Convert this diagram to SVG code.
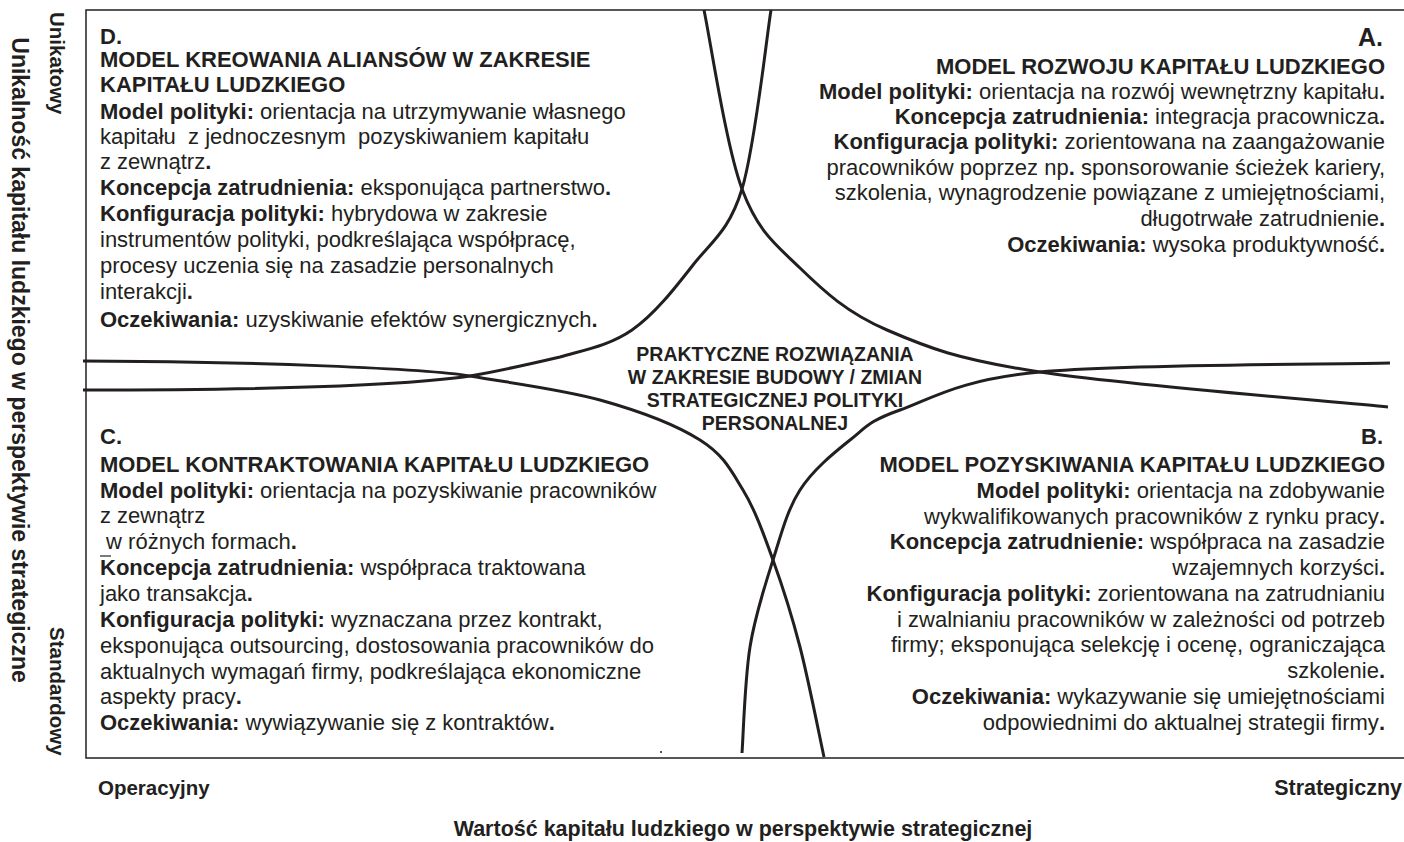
<svg xmlns="http://www.w3.org/2000/svg" width="1404" height="842" viewBox="0 0 1404 842">
<style>
.t{font-family:"Liberation Sans",Arial,sans-serif;font-size:22px;fill:#231f20;white-space:pre}
.b{font-weight:bold}
.r{text-anchor:end}
.c{font-family:"Liberation Sans",Arial,sans-serif;font-size:19.5px;font-weight:bold;fill:#231f20;text-anchor:middle}
.ax{font-family:"Liberation Sans",Arial,sans-serif;font-size:20.5px;font-weight:bold;fill:#231f20}
.frame{fill:none;stroke:#231f20;stroke-width:1.5}
.curve{fill:none;stroke:#231f20;stroke-width:3;stroke-linecap:butt}
</style>
<rect width="1404" height="842" fill="#fff"/>
<path class="frame" d="M1404,10 H86 V758 H1404"/>
<g id="connectors">
<path class="curve" d="M704,10 C710.3,39.8 726,146 742,189 C758,232 775.8,244.5 800,268 C824.2,291.5 847,312.7 887,330 C927,347.3 956.5,359.2 1040,372 C1123.5,384.8 1330,401.2 1388,407"/>
<path class="curve" d="M771,10 C766.2,39.8 755,146.5 742,189 C729,231.5 711.3,241.5 693,265 C674.7,288.5 654.2,314.7 632,330 C609.8,345.3 587,349.3 560,357 C530,364 500,371 470,376 C400,386 250,390 83,390"/>
<path class="curve" d="M83,361 C250,361 430,369 470,376 C510,383 561.7,389.3 600,400 C638.3,410.7 676.2,425 700,440 C723.8,455 730.8,470 743,490 C755.2,510 763.5,533.8 773,560 C782.5,586.2 791.5,614.2 800,647 C808.5,679.8 820,738.7 824,757"/>
<path class="curve" d="M742,753 C743.3,735.3 744.8,679.2 750,647 C755.2,614.8 764.7,586.2 773,560 C781.3,533.8 787.2,510 800,490 C812.8,470 833.3,453.3 850,440 C866.7,426.7 868.3,421.3 900,410 C931.7,398.7 958.3,379.8 1040,372 C1121.7,364.2 1331.7,364.5 1390,363"/>
</g>
<g id="axis-labels">
<text class="ax" x="98" y="795">Operacyjny</text>
<text class="ax" x="1402" y="795" text-anchor="end" style="font-size:21.5px">Strategiczny</text>
<text class="ax" x="743" y="836" text-anchor="middle" style="font-size:21.5px">Wartość kapitału ludzkiego w perspektywie strategicznej</text>
<text class="ax" transform="translate(50,12) rotate(90)">Unikatowy</text>
<text class="ax" transform="translate(50,627) rotate(90)">Standardowy</text>
<text class="ax" transform="translate(12,360) rotate(90)" text-anchor="middle" style="font-size:23px">Unikalność kapitału ludzkiego w perspektywie strategiczne</text>
</g>
<g id="node-D">
<text class="t b" x="100" y="44">D.</text>
<text class="t b" x="100" y="67">MODEL KREOWANIA ALIANSÓW W ZAKRESIE</text>
<text class="t b" x="100" y="92">KAPITAŁU LUDZKIEGO</text>
<text class="t" x="100" y="119"><tspan class="b">Model polityki:</tspan> orientacja na utrzymywanie własnego</text>
<text class="t" x="100" y="144">kapitału  z jednoczesnym  pozyskiwaniem kapitału</text>
<text class="t" x="100" y="169">z zewnątrz<tspan class="b">.</tspan></text>
<text class="t" x="100" y="195"><tspan class="b">Koncepcja zatrudnienia:</tspan> eksponująca partnerstwo<tspan class="b">.</tspan></text>
<text class="t" x="100" y="221"><tspan class="b">Konfiguracja polityki:</tspan> hybrydowa w zakresie</text>
<text class="t" x="100" y="247">instrumentów polityki, podkreślająca współpracę,</text>
<text class="t" x="100" y="273">procesy uczenia się na zasadzie personalnych</text>
<text class="t" x="100" y="299">interakcji<tspan class="b">.</tspan></text>
<text class="t" x="100" y="327"><tspan class="b">Oczekiwania:</tspan> uzyskiwanie efektów synergicznych<tspan class="b">.</tspan></text>
</g>
<g id="node-A">
<text class="t b r" x="1383" y="46" style="font-size:25px">A.</text>
<text class="t b r" x="1385" y="74">MODEL ROZWOJU KAPITAŁU LUDZKIEGO</text>
<text class="t r" x="1385" y="99"><tspan class="b">Model polityki:</tspan> orientacja na rozwój wewnętrzny kapitału<tspan class="b">.</tspan></text>
<text class="t r" x="1385" y="124"><tspan class="b">Koncepcja zatrudnienia:</tspan> integracja pracownicza<tspan class="b">.</tspan></text>
<text class="t r" x="1385" y="149"><tspan class="b">Konfiguracja polityki:</tspan> zorientowana na zaangażowanie</text>
<text class="t r" x="1385" y="175">pracowników poprzez np<tspan class="b">.</tspan> sponsorowanie ścieżek kariery,</text>
<text class="t r" x="1385" y="200">szkolenia, wynagrodzenie powiązane z umiejętnościami,</text>
<text class="t r" x="1385" y="226">długotrwałe zatrudnienie<tspan class="b">.</tspan></text>
<text class="t r" x="1385" y="252"><tspan class="b">Oczekiwania:</tspan> wysoka produktywność<tspan class="b">.</tspan></text>
</g>
<g id="node-center">
<text class="c" x="775" y="361">PRAKTYCZNE ROZWIĄZANIA</text>
<text class="c" x="775" y="384">W ZAKRESIE BUDOWY / ZMIAN</text>
<text class="c" x="775" y="407">STRATEGICZNEJ POLITYKI</text>
<text class="c" x="775" y="430">PERSONALNEJ</text>
</g>
<g id="node-C">
<text class="t b" x="100" y="444">C.</text>
<text class="t b" x="100" y="472">MODEL KONTRAKTOWANIA KAPITAŁU LUDZKIEGO</text>
<text class="t" x="100" y="498"><tspan class="b">Model polityki:</tspan> orientacja na pozyskiwanie pracowników</text>
<text class="t" x="100" y="523">z zewnątrz</text>
<text class="t" x="100" y="549"> w różnych formach<tspan class="b">.</tspan></text>
<line x1="100" y1="556" x2="111" y2="556" stroke="#231f20" stroke-width="1.2"/>
<text class="t" x="100" y="575"><tspan class="b">Koncepcja zatrudnienia:</tspan> współpraca traktowana</text>
<text class="t" x="100" y="601">jako transakcja<tspan class="b">.</tspan></text>
<text class="t" x="100" y="627"><tspan class="b">Konfiguracja polityki:</tspan> wyznaczana przez kontrakt,</text>
<text class="t" x="100" y="653">eksponująca outsourcing, dostosowania pracowników do</text>
<text class="t" x="100" y="679">aktualnych wymagań firmy, podkreślająca ekonomiczne</text>
<text class="t" x="100" y="704">aspekty pracy<tspan class="b">.</tspan></text>
<text class="t" x="100" y="730"><tspan class="b">Oczekiwania:</tspan> wywiązywanie się z kontraktów<tspan class="b">.</tspan></text>
<circle cx="661" cy="752" r="1" fill="#231f20"/>
</g>
<g id="node-B">
<text class="t b r" x="1383" y="444">B.</text>
<text class="t b r" x="1385" y="472">MODEL POZYSKIWANIA KAPITAŁU LUDZKIEGO</text>
<text class="t r" x="1385" y="498"><tspan class="b">Model polityki:</tspan> orientacja na zdobywanie</text>
<text class="t r" x="1385" y="524">wykwalifikowanych pracowników z rynku pracy<tspan class="b">.</tspan></text>
<text class="t r" x="1385" y="549"><tspan class="b">Koncepcja zatrudnienie:</tspan> współpraca na zasadzie</text>
<text class="t r" x="1385" y="575">wzajemnych korzyści<tspan class="b">.</tspan></text>
<text class="t r" x="1385" y="601"><tspan class="b">Konfiguracja polityki:</tspan> zorientowana na zatrudnianiu</text>
<text class="t r" x="1385" y="627">i zwalnianiu pracowników w zależności od potrzeb</text>
<text class="t r" x="1385" y="652">firmy; eksponująca selekcję i ocenę, ograniczająca</text>
<text class="t r" x="1385" y="678">szkolenie<tspan class="b">.</tspan></text>
<text class="t r" x="1385" y="704"><tspan class="b">Oczekiwania:</tspan> wykazywanie się umiejętnościami</text>
<text class="t r" x="1385" y="730">odpowiednimi do aktualnej strategii firmy<tspan class="b">.</tspan></text>
</g>
</svg>
